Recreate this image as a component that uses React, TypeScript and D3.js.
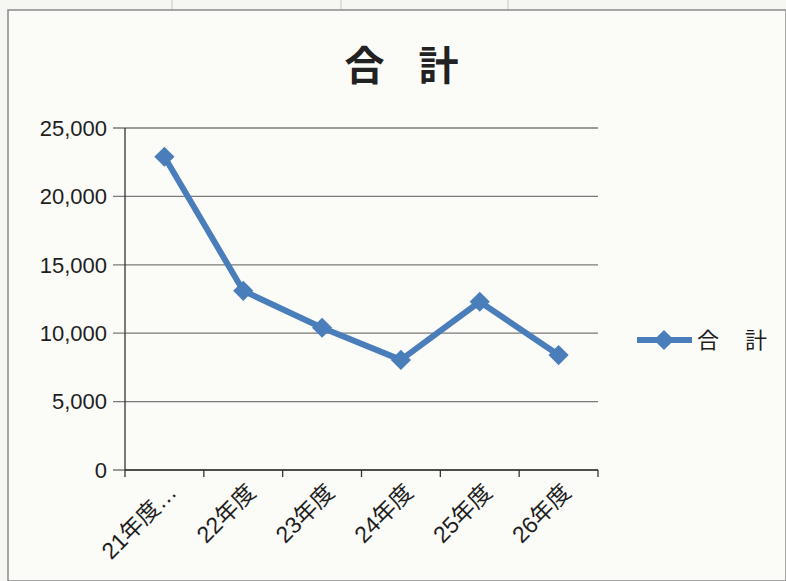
import React from "react";
import * as d3 from "d3";

const categories = ["21年度…", "22年度", "23年度", "24年度", "25年度", "26年度"];
const totals = [22900, 13100, 10400, 8050, 12300, 8400];
const yTicks = [0, 5000, 10000, 15000, 20000, 25000];

const W = 786;
const H = 581;
const plot = { left: 125, right: 598, top: 128, bottom: 470 };
const lineColor = "#4a7ebb";
const font = "'Liberation Sans', 'Noto Sans CJK JP', sans-serif";
const cjk = "'Noto Sans CJK JP', sans-serif";

export default function App() {
  const x = d3
    .scaleBand<string>()
    .domain(categories)
    .range([plot.left, plot.right]);
  const y = d3.scaleLinear().domain([0, 25000]).range([plot.bottom, plot.top]);
  const fmt = d3.format(",");

  const line = d3
    .line<number>()
    .x((_, i) => (x(categories[i]) as number) + x.bandwidth() / 2)
    .y((d) => y(d));

  const diamond = d3.symbol().type(d3.symbolDiamond2).size(260)();
  const boundaries = categories.map((c) => x(c) as number).concat([plot.right]);

  return (
    <div style={{ position: "absolute", left: 0, top: 0 }}>
      <svg width={W} height={H} style={{ display: "block", background: "#f6f6f3" }}>
        {/* spreadsheet cell lines behind the chart */}
        {[172, 341, 508].map((gx) => (
          <line key={gx} x1={gx} x2={gx} y1={0} y2={10} stroke="#c8c8c8" />
        ))}
        <rect x={8} y={10} width={W - 8} height={H - 10} fill="#fbfbf8" stroke="#8a8a8a" strokeWidth={1.5} />

        <text
          x={400}
          y={80}
          textAnchor="middle"
          fontFamily={cjk}
          fontWeight="bold"
          fontSize={40}
          fill="#222"
          letterSpacing={-3}
        >
          合　計
        </text>

        {/* gridlines and y labels */}
        {yTicks.map((t) => (
          <g key={t}>
            <line
              x1={plot.left - 12}
              x2={plot.right}
              y1={y(t)}
              y2={y(t)}
              stroke="#7a7a7a"
              strokeWidth={1.3}
            />
            <text
              x={107}
              y={y(t)}
              dy="0.35em"
              textAnchor="end"
              fontFamily={font}
              fontSize={22}
              fill="#1e1e1e"
            >
              {fmt(t)}
            </text>
          </g>
        ))}

        {/* axes */}
        <line x1={plot.left} x2={plot.left} y1={plot.top} y2={plot.bottom} stroke="#333" strokeWidth={1.3} />
        <line x1={plot.left} x2={plot.right} y1={plot.bottom} y2={plot.bottom} stroke="#333" strokeWidth={1.3} />
        {boundaries.map((bx, i) => (
          <line key={i} x1={bx} x2={bx} y1={plot.bottom} y2={plot.bottom + 7} stroke="#333" strokeWidth={1.3} />
        ))}

        {categories.map((c) => {
          const cx = (x(c) as number) + x.bandwidth() / 2 + 8;
          const cy = plot.bottom + 18;
          return (
            <text
              key={c}
              transform={`translate(${cx},${cy}) rotate(-45)`}
              textAnchor="end"
              dy="0.35em"
              fontFamily={font}
              fontSize={23}
              fill="#1e1e1e"
            >
              {c}
            </text>
          );
        })}

        {/* series */}
        <path d={line(totals) ?? ""} fill="none" stroke={lineColor} strokeWidth={6} strokeLinejoin="round" />
        {totals.map((v, i) => (
          <path
            key={i}
            d={diamond ?? ""}
            transform={`translate(${(x(categories[i]) as number) + x.bandwidth() / 2},${y(v)})`}
            fill={lineColor}
          />
        ))}

        {/* legend */}
        <line x1={637} x2={692} y1={340} y2={340} stroke={lineColor} strokeWidth={6} />
        <path d={diamond ?? ""} transform="translate(664,340)" fill={lineColor} />
        <text x={697} y={340} dy="0.35em" fontFamily={cjk} fontSize={22} fill="#1e1e1e" letterSpacing={2}>
          合　計
        </text>
      </svg>
    </div>
  );
}
